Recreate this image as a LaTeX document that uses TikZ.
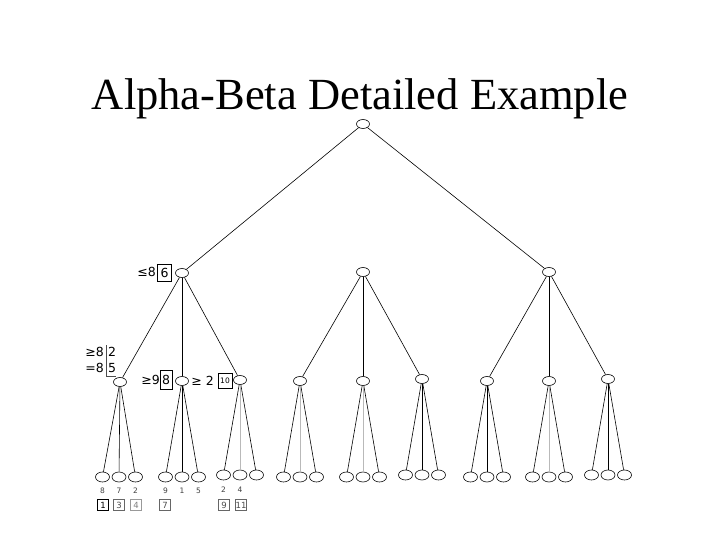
\documentclass[tikz,border=0pt]{standalone}
\usepackage{fontspec}
\setmainfont{Liberation Serif}
\newfontfamily\lblfont{DejaVu Sans}
\usetikzlibrary{shapes.geometric}
\begin{document}
\begin{tikzpicture}[x=1pt,y=-1pt,
  nd/.style={draw,ellipse,line width=0.6pt,minimum width=13pt,minimum height=9pt,inner sep=0pt},
  lf/.style={draw,ellipse,line width=0.6pt,minimum width=14pt,minimum height=10pt,inner sep=0pt},
  ed/.style={line width=0.6pt},
  edg/.style={line width=0.6pt,gray!55},
  lbl/.style={font=\lblfont\fontsize{12.5}{12.5}\selectfont,inner sep=0pt},
  val/.style={font=\lblfont\fontsize{7.5}{7.5}\selectfont,text=black!75,inner sep=0pt},
  bx/.style={draw,line width=0.6pt,font=\lblfont\fontsize{8.5}{8.5}\selectfont,minimum width=11pt,minimum height=11pt,inner sep=0pt}
]
\useasboundingbox (0,0) rectangle (720,540);
\fill[white] (0,0) rectangle (720,540);
\node[font=\fontsize{44.5}{44.5}\selectfont,inner sep=0pt,anchor=base] (title) at (360,110) {Alpha-Beta Detailed Example};

\node[nd] (r) at (363,124) {};
\node[nd] (a) at (182,273) {};
\node[nd] (b) at (363,272) {};
\node[nd] (c) at (549,272) {};
\draw[ed] (r) -- (a); \draw[ed] (r) -- (c);

\foreach \n/\x/\y/\p in {a1/120/382/a, a2/182/381/a, a3/240/380/a, b1/300/381/b, b2/363/381/b, b3/422/379/b, c1/487/381/c, c2/549/381/c, c3/608/379/c}{
  \node[nd] (\n) at (\x,\y) {};
  \draw[ed] (\p) -- (\n);
}

\foreach \n/\x/\y in {a1/119/477, a2/182/477, a3/240/475, b1/300/477, b2/363/477, b3/422/475, c1/487/477, c2/549/477, c3/608/475}{
  \node[lf] (\n L) at (\x-16.5,\y) {};
  \node[lf] (\n M) at (\x,\y) {};
  \node[lf] (\n R) at (\x+16.5,\y) {};
  \draw[ed] (\n) -- (\n L);
  \draw[ed] (\n) -- (\n R);
}
\foreach \n in {a1,a2,b3,c1,c3}{ \draw[ed] (\n) -- (\n M); }
\foreach \n in {a3,b1,b2,c2}{ \draw[edg] (\n) -- (\n M); }

% leaf values
\node[val] (v1) at (102.5,491) {8};
\node[val] (v2) at (119,491) {7};
\node[val] (v3) at (135.5,491) {2};
\node[val] (v4) at (165.5,491) {9};
\node[val] (v5) at (182,491) {1};
\node[val] (v6) at (198.5,491) {5};
\node[val] (v7) at (223.5,490) {2};
\node[val] (v8) at (240,490) {4};

% step boxes under leaves
\node[bx] (s1) at (103,505) {1};
\node[bx,draw=black!60,text=black!70] (s3) at (119,505) {3};
\node[bx,draw=black!40,text=black!50] (s4) at (136,505) {4};
\node[bx,draw=black!60,text=black!70] (s7) at (165,505) {7};
\node[bx,draw=black!60,text=black!70] (s9) at (224,505) {9};
\node[bx,draw=black!60,text=black!70] (s11) at (241,505) {11};

% bounds near nodes
\node[lbl,anchor=east] (t1) at (156,272) {≤8};
\node[bx,minimum width=14pt,minimum height=17pt,font=\lblfont\fontsize{12.5}{12.5}\selectfont] (t1b) at (164.5,273) {6};

\node[lbl,anchor=east] (t2) at (104,352) {≥8};
\node[lbl,anchor=east] (t3) at (104,368) {=8};
\node[lbl,anchor=west] (t2b) at (108,352) {2};
\node[lbl,anchor=west] (t3b) at (108,368) {5};
\coordinate (k1) at (106,345);
\coordinate (k2) at (106,376);
\coordinate (k3) at (116,376);
\draw[line width=0.6pt,black!70] (k1) -- (k2) -- (k3);

\node[lbl,anchor=east] (t4) at (160,380) {≥9};
\node[bx,minimum width=12pt,minimum height=19pt,font=\lblfont\fontsize{12.5}{12.5}\selectfont] (t4b) at (166,380) {8};

\node[lbl,anchor=east] (t5) at (214,381) {≥ 2};
\node[bx,minimum width=14pt,minimum height=15pt,font=\lblfont\fontsize{7.5}{7.5}\selectfont] (t5b) at (225,381) {10};
\end{tikzpicture}
\end{document}
